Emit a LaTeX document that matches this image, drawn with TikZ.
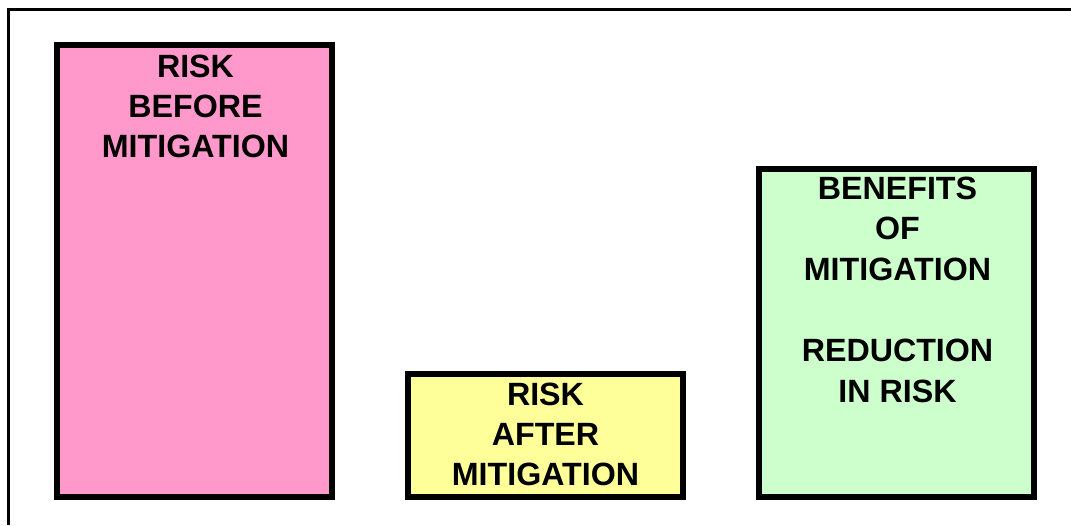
\documentclass[tikz,border=0pt]{standalone}
\usepackage{fontspec}
\setmainfont{Liberation Sans}
\definecolor{pinkc}{RGB}{255,153,204}
\definecolor{yellowc}{RGB}{255,255,153}
\definecolor{greenc}{RGB}{204,255,204}
\begin{document}
\begin{tikzpicture}[x=0.5pt,y=-0.5pt,
  bar/.style={draw=black, line width=3pt, inner sep=0pt, minimum width=137.5pt},
  lbl/.style={font=\bfseries\fontsize{16.1pt}{20pt}\selectfont, anchor=base, inner sep=0pt},
  frame/.style={line width=1.5pt}]
\useasboundingbox (0,0) rectangle (1071,525);
\coordinate (fa) at (8.5,525);
\coordinate (fb) at (8.5,9.5);
\coordinate (fc) at (1071,9.5);
\draw[frame] (fa) -- (fb) -- (fc);
% bars
\node[bar, fill=pinkc, minimum height=226pt] (before) at (194.5,271) {};
\node[bar, fill=yellowc, minimum height=61.5pt] (after) at (545.5,435.5) {};
\node[bar, fill=greenc, minimum height=164pt] (benefit) at (896.5,333) {};
% labels
\node[lbl] (b1) at (195.5,77) {RISK};
\node[lbl] (b2) at (195.5,117) {BEFORE};
\node[lbl] (b3) at (195.5,157) {MITIGATION};
\node[lbl] (a1) at (545.5,405) {RISK};
\node[lbl] (a2) at (545.5,445) {AFTER};
\node[lbl] (a3) at (545.5,485) {MITIGATION};
\node[lbl] (g1) at (897.5,199) {BENEFITS};
\node[lbl] (g2) at (897.5,239) {OF};
\node[lbl] (g3) at (897.5,280) {MITIGATION};
\node[lbl] (g4) at (897.5,361) {REDUCTION};
\node[lbl] (g5) at (897.5,402) {IN RISK};
\end{tikzpicture}
\end{document}
